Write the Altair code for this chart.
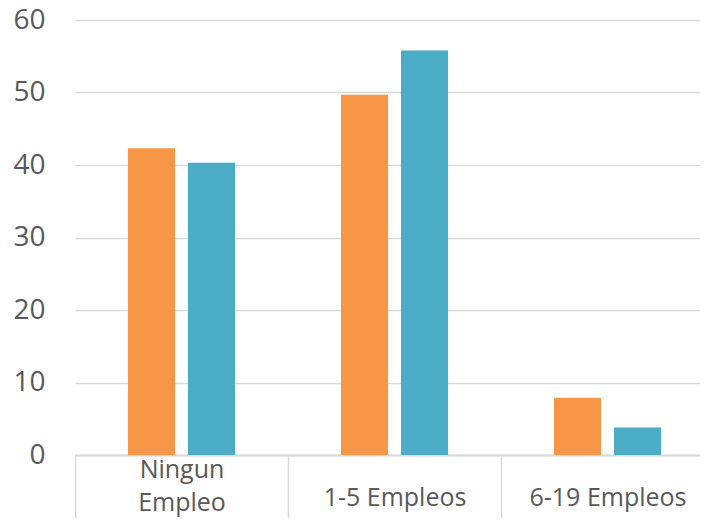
import altair as alt
import pandas as pd

categories = ["Ningun Empleo", "1-5 Empleos", "6-19 Empleos"]
series = ["Serie 1", "Serie 2"]
serie_1 = [42.3, 49.7, 7.9]
serie_2 = [40.3, 55.8, 3.8]
colors = ["#F79646", "#4BACC6"]
y_ticks = [0, 10, 20, 30, 40, 50, 60]

rows = []
for c, a, b in zip(categories, serie_1, serie_2):
    rows.append({"cat": c, "serie": series[0], "v": a})
    rows.append({"cat": c, "serie": series[1], "v": b})
df = pd.DataFrame(rows)

FONT = "Open Sans"
TXT = "#595959"
GRID = "#d9d9d9"

chart = alt.Chart(df).mark_bar().encode(
    x=alt.X(
        "cat:N",
        sort=categories,
        scale=alt.Scale(domain=categories, range=[0, 639], paddingInner=0, paddingOuter=0),
        axis=alt.Axis(
            title=None, labelAngle=0, tickBand="extent", tickSize=77,
            tickColor=GRID, tickWidth=1.5, domainColor=GRID, domainWidth=2,
            labelFont=FONT, labelFontSize=25, labelColor=TXT,
            labelPadding={"condition": {"test": "datum.value == 'Ningun Empleo'", "value": -63}, "value": -35},
            labelBaseline="middle", labelLineHeight=33,
            labelLimit=400, labelOverlap=False, grid=False,
            labelExpr="datum.value == 'Ningun Empleo' ? ['Ningun', 'Empleo'] : datum.value",
        ),
    ),
    xOffset=alt.XOffset(
        "serie:N", sort=series,
        scale=alt.Scale(domain=series, paddingInner=0.217, paddingOuter=0.883),
    ),
    y=alt.Y(
        "v:Q",
        scale=alt.Scale(domain=[0, 60], nice=False),
        axis=alt.Axis(
            title=None, values=y_ticks, ticks=False, domain=False,
            gridColor=GRID, gridWidth=1.5,
            labelFont=FONT, labelFontSize=28, labelColor=TXT, labelPadding=30,
        ),
    ),
    color=alt.Color("serie:N", scale=alt.Scale(domain=series, range=colors), legend=None),
).properties(
    width=625, height=435,
    padding={"left": 67, "top": 12, "right": 0, "bottom": 63},
    autosize="none",
).configure_view(stroke=None)

chart.save("out.html", embed_options={"renderer": "svg", "actions": False})
